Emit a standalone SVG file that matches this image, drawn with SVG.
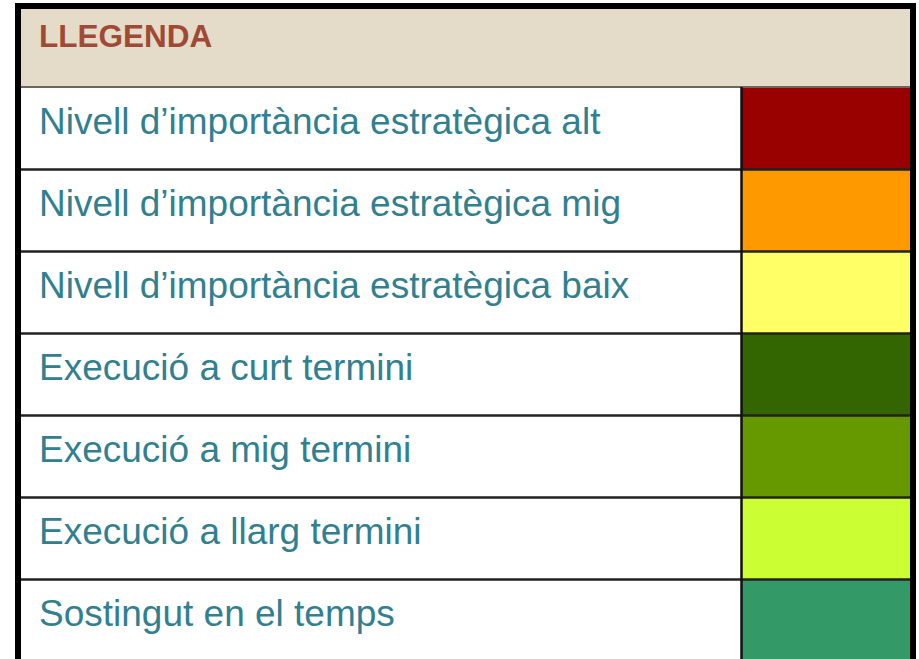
<svg xmlns="http://www.w3.org/2000/svg" width="919" height="659" viewBox="0 0 919 659">
<style>
.lbl{font-family:"Liberation Sans",Arial,sans-serif;font-size:37px;fill:#31808f}
.hdr{font-family:"Liberation Sans",Arial,sans-serif;font-size:31.5px;font-weight:bold;fill:#a04a36}
.row{stroke:#222;stroke-width:2.5}
.sw{stroke:none}
</style>
<rect x="0" y="0" width="919" height="659" fill="#ffffff"/>
<g id="header">
<rect x="18" y="6" width="896" height="81" fill="#e4dcc8"/>
<text class="hdr" x="39" y="47">LLEGENDA</text>
<line x1="18" y1="87" x2="914" y2="87" stroke="#6e665c" stroke-width="2"/>
</g>
<g id="row-alt">
<rect class="sw" x="742" y="88" width="172" height="82" fill="#990000"/>
<text class="lbl" x="39" y="134">Nivell d’importància estratègica alt</text>
</g>
<g id="row-mig">
<rect class="sw" x="742" y="170" width="172" height="82" fill="#ff9900"/>
<text class="lbl" x="39" y="216">Nivell d’importància estratègica mig</text>
</g>
<g id="row-baix">
<rect class="sw" x="742" y="252" width="172" height="82" fill="#ffff66"/>
<text class="lbl" x="39" y="298">Nivell d’importància estratègica baix</text>
</g>
<g id="row-curt">
<rect class="sw" x="742" y="334" width="172" height="82" fill="#336600"/>
<text class="lbl" x="39" y="380">Execució a curt termini</text>
</g>
<g id="row-migt">
<rect class="sw" x="742" y="416" width="172" height="82" fill="#669900"/>
<text class="lbl" x="39" y="462">Execució a mig termini</text>
</g>
<g id="row-llarg">
<rect class="sw" x="742" y="498" width="172" height="82" fill="#ccff33"/>
<text class="lbl" x="39" y="544">Execució a llarg termini</text>
</g>
<g id="row-sost">
<rect class="sw" x="742" y="580" width="172" height="90" fill="#339966"/>
<text class="lbl" x="39" y="626">Sostingut en el temps</text>
</g>
<g id="grid">
<line class="row" x1="18" y1="169.5" x2="914" y2="169.5"/>
<line class="row" x1="18" y1="251.5" x2="914" y2="251.5"/>
<line class="row" x1="18" y1="333.5" x2="914" y2="333.5"/>
<line class="row" x1="18" y1="415.5" x2="914" y2="415.5"/>
<line class="row" x1="18" y1="497.5" x2="914" y2="497.5"/>
<line class="row" x1="18" y1="579.5" x2="914" y2="579.5"/>
<line x1="741.5" y1="87" x2="741.5" y2="670" stroke="#111" stroke-width="2.5"/>
<rect x="18" y="6" width="895" height="700" fill="none" stroke="#000" stroke-width="6"/>
</g>
</svg>
